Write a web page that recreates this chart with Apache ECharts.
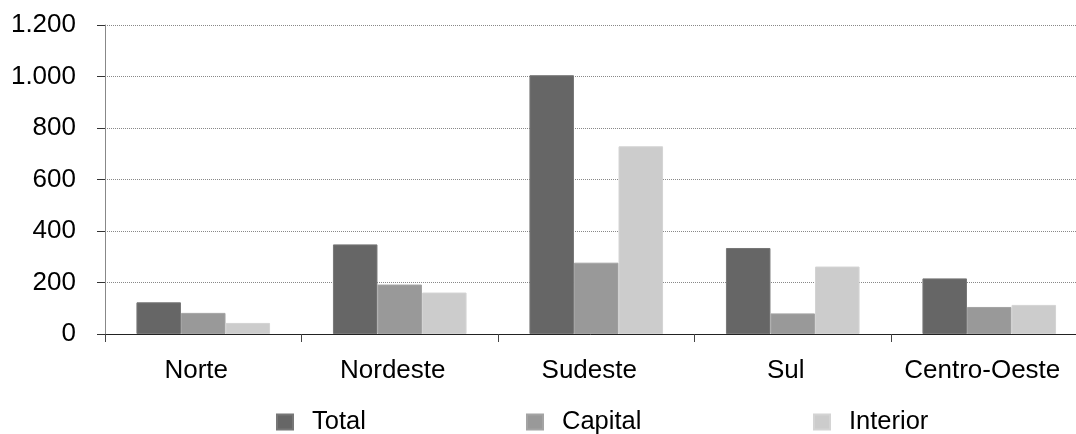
<!DOCTYPE html>
<html>
<head>
<meta charset="utf-8">
<script src="https://cdn.jsdelivr.net/npm/echarts@6/dist/echarts.min.js"></script>
<style>
html,body{margin:0;padding:0;background:#fff;}
#chart{width:1076px;height:434px;}
</style>
</head>
<body>
<div id="chart"></div>
<script>
var categories = ['Norte', 'Nordeste', 'Sudeste', 'Sul', 'Centro-Oeste'];
var seriesNames = ['Total', 'Capital', 'Interior'];
var totalValues = [123, 348, 1005, 334, 216];
var capitalValues = [82, 192, 277, 80, 105];
var interiorValues = [43, 161, 729, 262, 113];
var yMin = 0, yMax = 1200, yInterval = 200;

var colors = ['#666666', '#999999', '#cccccc'];
var FONT = '"Liberation Sans", Arial, sans-serif';

function fmt(v) {
  return String(v).replace(/\B(?=(\d{3})+(?!\d))/g, '.');
}

function legendAt(name, left) {
  return {
    data: [name],
    left: left,
    top: 409,
    padding: 0,
    itemWidth: 16,
    itemHeight: 15,
    icon: 'rect',
    selectedMode: false,
    textStyle: { fontFamily: FONT, fontSize: 25.5, color: '#000', lineHeight: 26, padding: [0, 0, 0, 14] }
  };
}

var chart = echarts.init(document.getElementById('chart'), null, { renderer: 'canvas' });
chart.setOption({
  animation: false,
  color: colors,
  grid: { left: 105, width: 982.5, top: 25, height: 309, containLabel: false, outerBoundsMode: 'none' },
  legend: [
    legendAt(seriesNames[0], 276),
    legendAt(seriesNames[1], 526),
    legendAt(seriesNames[2], 813)
  ],
  xAxis: {
    type: 'category',
    data: categories,
    axisLine: { show: true, lineStyle: { color: '#222', width: 1 } },
    axisTick: { show: true, interval: 0, length: 8, lineStyle: { color: '#444' }, alignWithLabel: false },
    axisLabel: { interval: 0, fontFamily: FONT, fontSize: 26, color: '#000', margin: 24, padding: [0, 14, 0, 0] }
  },
  yAxis: {
    type: 'value',
    min: yMin,
    max: yMax,
    interval: yInterval,
    axisLine: { show: true, lineStyle: { color: '#888', width: 1 } },
    axisTick: { show: true, length: 8, lineStyle: { color: '#333' } },
    axisLabel: { fontFamily: FONT, fontSize: 26, color: '#000', margin: 29, formatter: fmt },
    splitLine: { show: true, lineStyle: { color: '#888', type: [1, 1], width: 1 } }
  },
  series: [
    { name: seriesNames[0], type: 'bar', data: totalValues, barGap: '0%', barCategoryGap: '32%',
      itemStyle: { color: colors[0], borderColor: '#777', borderWidth: 1 } },
    { name: seriesNames[1], type: 'bar', data: capitalValues,
      itemStyle: { color: colors[1], borderColor: '#a4a4a4', borderWidth: 1 } },
    { name: seriesNames[2], type: 'bar', data: interiorValues,
      itemStyle: { color: colors[2], borderColor: '#d4d4d4', borderWidth: 1 } }
  ]
});
</script>
</body>
</html>
